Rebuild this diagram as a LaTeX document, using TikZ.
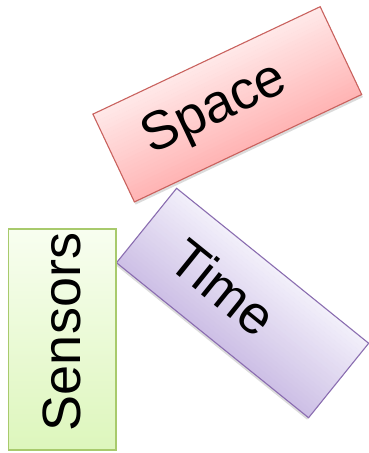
\documentclass[tikz,border=0pt]{standalone}
\usepackage{fontspec}
\setmainfont{Liberation Sans}
\definecolor{spaceline}{HTML}{C9625E}
\definecolor{spacetop}{HTML}{FFE8E8}
\definecolor{spacebot}{HTML}{FFB3B3}
\definecolor{timeline}{HTML}{8A6DB0}
\definecolor{timetop}{HTML}{F2EFFA}
\definecolor{timebot}{HTML}{CCBEE5}
\definecolor{sensline}{HTML}{A8CA6C}
\definecolor{senstop}{HTML}{F8FEF0}
\definecolor{sensbot}{HTML}{DDF6BC}

\begin{document}
\begin{tikzpicture}[
  x=1pt, y=-1pt,
  font=\fontsize{54}{60}\selectfont,
  card/.style={
    draw,
    line width=1.1pt,
    inner sep=0pt,
    transform shape
  },
  cardshadow/.style={fill=black, opacity=0.14}
]
\useasboundingbox (0,0) rectangle (368,453);

% Space card, tilted up to the right; strips give the fill gradient.
\begin{scope}[shift={(227.3,104.3)}, rotate=25.3]
  \fill[cardshadow] (-125.7,-46) rectangle (125.7,51.5);
  \foreach \i [evaluate=\i as \p using int(\i*4)] in {0,...,24}
    \fill[spacebot!\p!spacetop] (-125.7,{-48.55+\i*3.884}) rectangle (125.7,{-48.15+(\i+1)*3.884});
  \node[card, draw=spaceline, minimum width=251.4pt, minimum height=97.1pt] (space) at (0,0)
  {Space\hspace*{27pt}};
\end{scope}

% Time card, tilted down to the right.
\begin{scope}[shift={(242.6,303)}, rotate=-38.9]
  \fill[cardshadow] (-123.4,-45.4) rectangle (123.4,50.3);
  \foreach \i [evaluate=\i as \p using int(\i*4)] in {0,...,24}
    \fill[timebot!\p!timetop] (-123.4,{-47.85+\i*3.828}) rectangle (123.4,{-47.45+(\i+1)*3.828});
  \node[card, draw=timeline, minimum width=246.8pt, minimum height=95.7pt] (time) at (0,0)
  {Time\hspace*{50pt}};
\end{scope}

% Upright card, text reading upwards.
\node[card, draw=sensline, top color=senstop, bottom color=sensbot, rotate=90,
  minimum width=221pt, minimum height=107.5pt] (sensors) at (62.25,339.5)
{\hspace*{15pt}Sensors};

\end{tikzpicture}
\end{document}
